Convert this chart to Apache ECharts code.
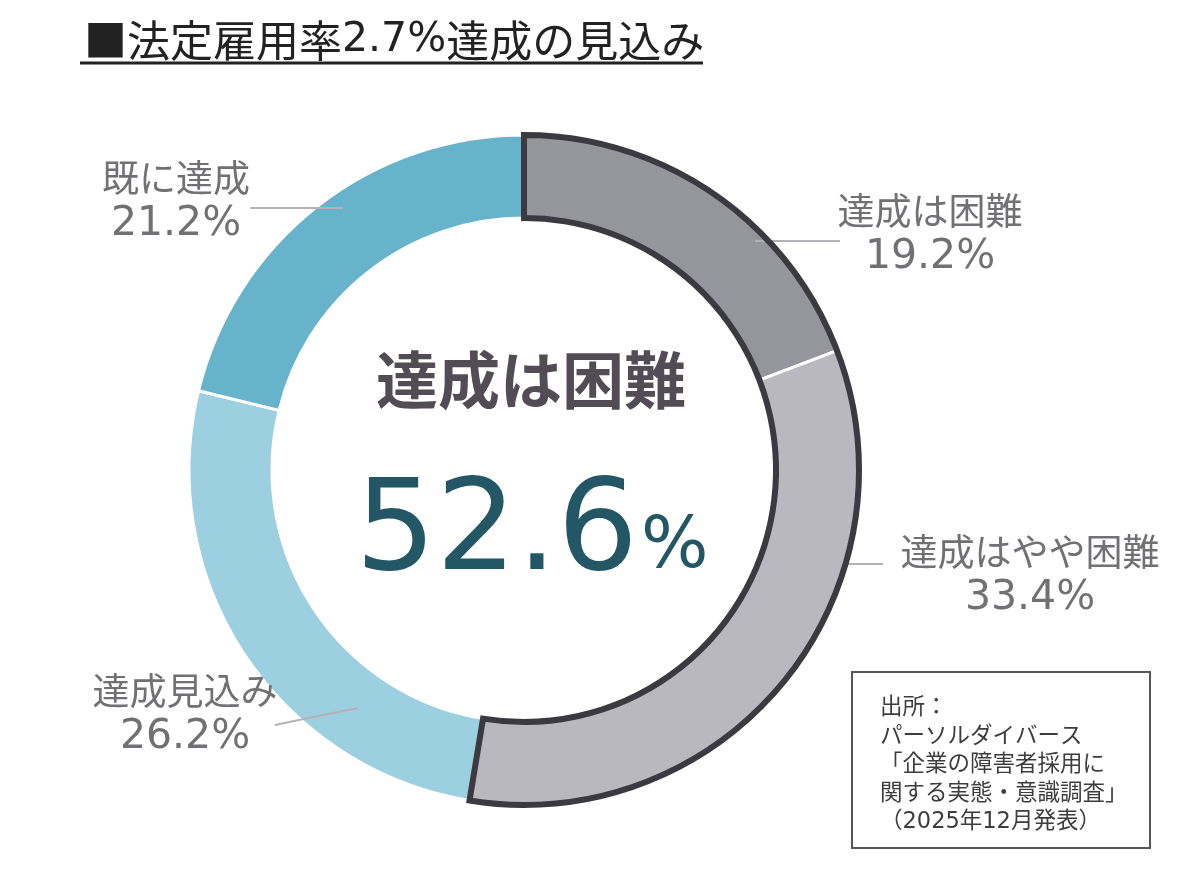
<!DOCTYPE html>
<html>
<head>
<meta charset="utf-8">
<script src="https://cdn.jsdelivr.net/npm/echarts@6/dist/echarts.min.js"></script>
<style>
  html, body { margin: 0; padding: 0; background: #fff; }
  #chart { width: 1200px; height: 878px; }
</style>
</head>
<body>
<div id="chart"></div>
<script>
const categories = ["達成は困難", "達成はやや困難", "達成見込み", "既に達成"]
const values = [19.2, 33.4, 26.2, 21.2]
const colors = ["#95959c", "#bab8bf", "#9ccfe0", "#67b3cc"]

// label placement (text block centre + guide line points)
const labelPos = [
  { x: 930, y: 234, line: [[755, 241], [800, 241], [840, 241]] },
  { x: 1030, y: 575, line: [[848, 564], [866, 564], [883, 564]] },
  { x: 185, y: 714, line: [[358, 708], [318, 716], [275, 725]] },
  { x: 176, y: 201, line: [[343, 208], [300, 208], [250, 208]] }
]

const hardTotal = values[0] + values[1]
const allTotal = values.reduce((a, b) => a + b, 0)

const chart = echarts.init(document.getElementById("chart"))
const jp = "'Noto Sans CJK JP', sans-serif"
const center = [524, 470]
const radius = [252, 335]

chart.setOption({
  animation: false,
  title: {
    text: "{a|■法定雇用率}{b|2.7%}{a|達成の見込み}",
    left: 84,
    top: 19,
    padding: 0,
    textStyle: {
      fontWeight: "normal",
      rich: {
        a: { fontFamily: jp, fontSize: 43, fontWeight: "normal", color: "#222" },
        b: { fontFamily: "'DejaVu Sans', sans-serif", fontSize: 41, fontWeight: "normal", color: "#222" }
      }
    }
  },
  graphic: [
    { type: "line", shape: { x1: 80, y1: 63, x2: 703, y2: 63 }, style: { stroke: "#222", lineWidth: 3 } },
    {
      type: "text", x: 531, y: 380,
      style: { text: "達成は困難", align: "center", verticalAlign: "middle",
        font: "bold 62px 'Noto Sans CJK JP'", fill: "#524d55" }
    },
    {
      type: "text", x: 638, y: 536,
      style: { text: hardTotal.toFixed(1), align: "right", verticalAlign: "middle",
        font: "127px 'DejaVu Sans'", fill: "#245766" }
    },
    {
      type: "text", x: 641, y: 549,
      style: { text: "%", align: "left", verticalAlign: "middle",
        font: "71px 'DejaVu Sans'", fill: "#245766" }
    },
    {
      type: "rect", shape: { x: 852, y: 672, width: 298, height: 176 },
      style: { fill: "#fff", stroke: "#555", lineWidth: 2 }
    },
    {
      type: "text", x: 880, y: 694,
      style: {
        text: "出所：\nパーソルダイバース\n「企業の障害者採用に\n関する実態・意識調査」\n（2025年12月発表）",
        font: "22.5px 'DejaVu Sans', 'Noto Sans CJK JP'", lineHeight: 28.5, fill: "#3d3d3d",
        verticalAlign: "top"
      }
    }
  ],
  series: [
    {
      // coloured ring
      type: "pie",
      center: center,
      radius: radius,
      startAngle: 90,
      silent: true,
      z: 2,
      data: categories.map((c, i) => ({ name: c, value: values[i], itemStyle: { color: colors[i] } })),
      itemStyle: { borderColor: "#fff", borderWidth: 3 },
      label: { show: false },
      labelLine: { show: false }
    },
    {
      // labels on top of the ring
      type: "pie",
      center: center,
      radius: radius,
      startAngle: 90,
      silent: true,
      z: 3,
      data: categories.map((c, i) => ({ name: c, value: values[i] })),
      itemStyle: { color: "rgba(0,0,0,0)", borderWidth: 0 },
      label: {
        show: true,
        position: "outside",
        formatter: "{n|{b}}\n{v|{c}%}",
        color: "#717175",
        rich: {
          n: { fontFamily: jp, fontSize: 37, lineHeight: 46, color: "#717175", align: "center" },
          v: { fontFamily: "'DejaVu Sans', sans-serif", fontSize: 41, lineHeight: 46, color: "#717175", align: "center" }
        }
      },
      labelLine: { show: true, smooth: false, lineStyle: { color: "#b4b2b8", width: 2 } },
      labelLayout: function (params) {
        const p = labelPos[params.dataIndex]
        return { x: p.x, y: p.y, align: "center", verticalAlign: "middle", labelLinePoints: p.line }
      }
    },
    {
      // dark outline round the "difficult" group
      type: "pie",
      center: center,
      radius: radius,
      startAngle: 90,
      silent: true,
      z: 4,
      label: { show: false },
      labelLine: { show: false },
      data: [
        { value: hardTotal, itemStyle: { color: "rgba(0,0,0,0)", borderColor: "#3b3a41", borderWidth: 6, borderJoin: "miter" } },
        { value: allTotal - hardTotal, itemStyle: { color: "rgba(0,0,0,0)", borderWidth: 0 } }
      ]
    }
  ]
})
</script>
</body>
</html>
